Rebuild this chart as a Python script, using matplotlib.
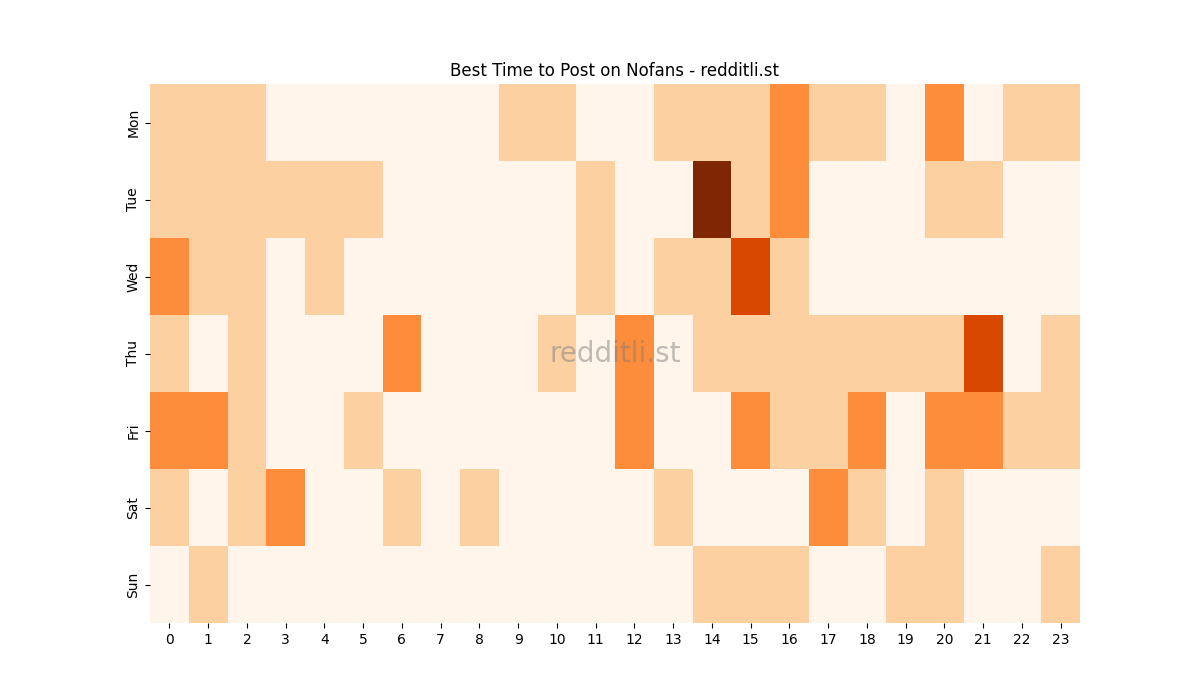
import numpy as np
import pandas as pd
import matplotlib
matplotlib.use("Agg")
import matplotlib.pyplot as plt
import seaborn as sns

days = ['Mon', 'Tue', 'Wed', 'Thu', 'Fri', 'Sat', 'Sun']
hours = list(range(24))

# activity level per hour (0 = none ... 4 = best)
mon = [1, 1, 1, 0, 0, 0, 0, 0, 0, 1, 1, 0, 0, 1, 1, 1, 2, 1, 1, 0, 2, 0, 1, 1]
tue = [1, 1, 1, 1, 1, 1, 0, 0, 0, 0, 0, 1, 0, 0, 4, 1, 2, 0, 0, 0, 1, 1, 0, 0]
wed = [2, 1, 1, 0, 1, 0, 0, 0, 0, 0, 0, 1, 0, 1, 1, 3, 1, 0, 0, 0, 0, 0, 0, 0]
thu = [1, 0, 1, 0, 0, 0, 2, 0, 0, 0, 1, 0, 2, 0, 1, 1, 1, 1, 1, 1, 1, 3, 0, 1]
fri = [2, 2, 1, 0, 0, 1, 0, 0, 0, 0, 0, 0, 2, 0, 0, 2, 1, 1, 2, 0, 2, 2, 1, 1]
sat = [1, 0, 1, 2, 0, 0, 1, 0, 1, 0, 0, 0, 0, 1, 0, 0, 0, 2, 1, 0, 1, 0, 0, 0]
sun = [0, 1, 0, 0, 0, 0, 0, 0, 0, 0, 0, 0, 0, 0, 1, 1, 1, 0, 0, 1, 1, 0, 0, 1]

data = pd.DataFrame([mon, tue, wed, thu, fri, sat, sun], index=days, columns=hours)

fig, ax = plt.subplots(figsize=(12, 7), dpi=100)
sns.heatmap(data, cmap='Oranges', vmin=0, vmax=4, cbar=False, ax=ax)

ax.set_title('Best Time to Post on Nofans - redditli.st')
ax.set_xlabel('')
ax.set_ylabel('')
plt.setp(ax.get_yticklabels(), rotation=90, va='center')
plt.setp(ax.get_xticklabels(), rotation=0)

# watermark
ax.text(0.5, 0.5, 'redditli.st', transform=ax.transAxes, ha='center', va='center',
        fontsize=20, color='gray', alpha=0.5)

fig.savefig('out.png')
